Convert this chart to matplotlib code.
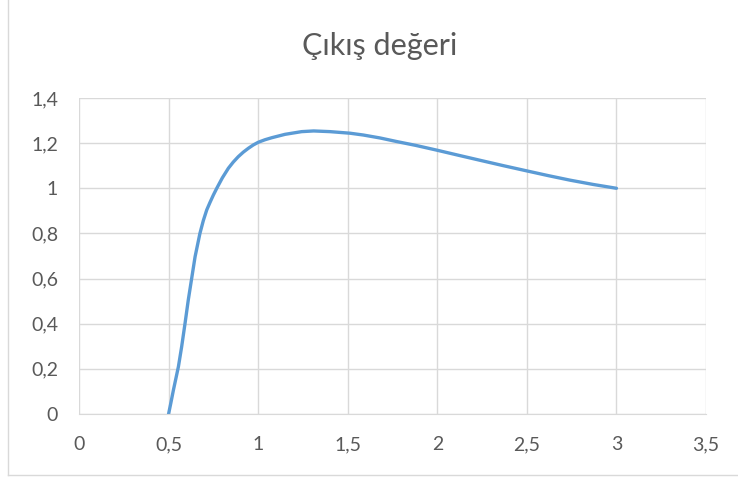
import matplotlib
matplotlib.use("Agg")
import matplotlib.pyplot as plt
from matplotlib.ticker import FuncFormatter
from matplotlib.lines import Line2D

x_vals = [0.500, 0.513, 0.527, 0.541, 0.555, 0.573, 0.592, 0.610, 0.629, 0.648, 0.675, 0.694,
          0.713, 0.731, 0.750, 0.769, 0.800, 0.834, 0.861, 0.889, 0.917, 0.945, 0.973, 1.001,
          1.038, 1.076, 1.150, 1.243, 1.310, 1.401, 1.513, 1.587, 1.680, 1.774, 1.880, 1.997,
          2.120, 2.239, 2.370, 2.500, 2.620, 2.741, 2.870, 3.000]
y_vals = [0.000, 0.050, 0.106, 0.158, 0.210, 0.298, 0.402, 0.505, 0.601, 0.697, 0.800, 0.857,
          0.904, 0.937, 0.970, 1.000, 1.046, 1.089, 1.116, 1.140, 1.160, 1.177, 1.192, 1.204,
          1.215, 1.224, 1.239, 1.251, 1.254, 1.251, 1.244, 1.236, 1.223, 1.207, 1.190, 1.169,
          1.146, 1.124, 1.100, 1.077, 1.056, 1.036, 1.017, 1.000]

title = "Çıkış değeri"
x_ticks = [0, 0.5, 1, 1.5, 2, 2.5, 3, 3.5]
y_ticks = [0, 0.2, 0.4, 0.6, 0.8, 1.0, 1.2, 1.4]

plt.rcParams['font.family'] = ['Lato', 'DejaVu Sans']

W, H = 738, 479
fig = plt.figure(figsize=(W / 100, H / 100), dpi=100)
ax = fig.add_axes([79 / W, 1 - 414 / H, (706 - 79) / W, (414 - 98) / H])

ax.plot(x_vals, y_vals, color="#5b9bd5", lw=2.4, solid_capstyle="round", solid_joinstyle="round")
ax.set_xlim(0, 3.5)
ax.set_ylim(0, 1.4)
ax.set_xticks(x_ticks)
ax.set_yticks(y_ticks)

def fmt(v, pos):
    s = ("%g" % round(v, 2))
    return s.replace(".", ",")

ax.xaxis.set_major_formatter(FuncFormatter(fmt))
ax.yaxis.set_major_formatter(FuncFormatter(fmt))
ax.grid(True, color="#d9d9d9", lw=1.0)
ax.set_axisbelow(True)
for s in ax.spines.values():
    s.set_visible(False)
ax.spines['bottom'].set_visible(True)
ax.spines['bottom'].set_color("#d9d9d9")
ax.tick_params(length=0, labelsize=14, colors="#595959")
ax.tick_params(axis='x', pad=16)
ax.tick_params(axis='y', pad=15)

fig.text(380 / W, 1 - 55 / H, title, ha="center", va="baseline", fontsize=22, color="#595959")

# chart border (left & bottom visible)
fig.add_artist(Line2D([8 / W, 8 / W], [1 - 475 / H, 1.0], transform=fig.transFigure, color="#d9d9d9", lw=1))
fig.add_artist(Line2D([8 / W, 1.0], [1 - 475 / H, 1 - 475 / H], transform=fig.transFigure, color="#d9d9d9", lw=1))

fig.savefig("out.png", dpi=100, facecolor="white")
